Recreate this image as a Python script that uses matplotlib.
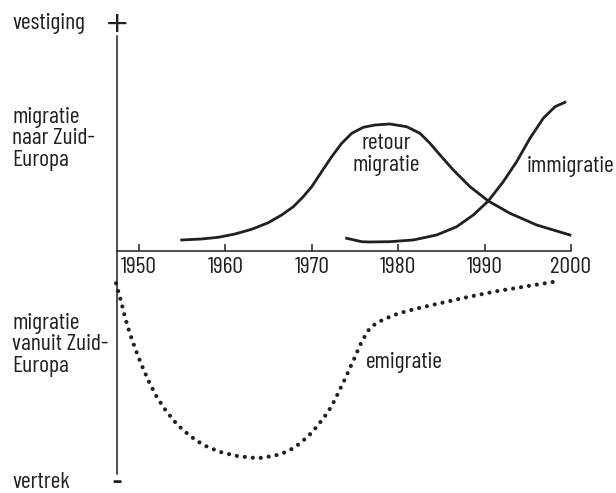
import matplotlib.pyplot as plt

# condensed sans, close to the original lettering
plt.rcParams['font.family'] = ['Barlow Condensed', 'DejaVu Sans']

# retour migratie (solid bell curve)
retour_jaar = [1954.94, 1957.25, 1959.18, 1961.11, 1963.04, 1964.96, 1966.51, 1967.86,
               1969.01, 1969.99, 1971.14, 1972.30, 1973.46, 1974.62, 1975.96, 1977.31,
               1979.05, 1980.98, 1982.52, 1983.68, 1984.84, 1986.38, 1988.31, 1990.43,
               1992.94, 1996.03, 1999.88]
retour_waarde = [5.12, 5.58, 6.37, 7.91, 10.09, 13.16, 16.74, 20.6,
                 25.26, 29.91, 36.88, 43.86, 50.09, 54.74, 57.53, 58.6,
                 59.07, 57.81, 54.74, 50.09, 44.65, 37.67, 29.91, 23.26,
                 17.53, 12.09, 7.44]

# immigratie (solid s-curve)
immi_jaar = [1974.04, 1975.77, 1976.73, 1979.05, 1981.75, 1984.45, 1986.77, 1988.69,
             1990.43, 1992.16, 1993.71, 1995.25, 1996.79, 1998.15, 1999.30]
immi_waarde = [5.91, 4.33, 4.19, 4.33, 5.12, 7.44, 11.3, 16.74,
               23.26, 32.23, 41.53, 52.42, 61.72, 67.12, 69.16]

# emigratie (dotted curve)
emi_jaar = [1947.34, 1947.88, 1948.38, 1948.96, 1949.62, 1950.35, 1951.16, 1952.08,
            1953.16, 1954.43, 1955.90, 1957.52, 1959.29, 1961.14, 1963.0, 1964.0,
            1964.96, 1965.85, 1966.78, 1967.67, 1968.48, 1969.21, 1969.91, 1970.57,
            1971.18, 1971.76, 1972.30, 1972.76, 1973.18, 1973.61, 1974.04, 1974.45,
            1974.88, 1975.26, 1975.69, 1976.16, 1976.65, 1977.43, 1978.27, 1979.16,
            1980.09, 1981.91, 1983.76, 1985.65, 1987.53, 1989.38, 1991.32, 1993.17,
            1995.06, 1996.99, 1997.88]
emi_waarde = [-15.02, -22.79, -30.84, -38.6, -46.05, -53.49, -60.93, -68.05,
              -74.56, -80.79, -86.05, -90.37, -93.35, -95.21, -96.14, -96.28,
              -95.67, -95.02, -93.81, -92.09, -89.91, -87.44, -84.79, -81.72,
              -78.6, -75.49, -72.09, -68.51, -64.98, -61.4, -57.81, -54.09,
              -50.37, -46.84, -42.93, -39.53, -36.28, -33.63, -31.95, -30.37,
              -28.98, -26.98, -25.26, -23.58, -21.86, -20.33, -18.74, -17.53,
              -16.28, -15.02, -14.42]

jaren = [1950, 1960, 1970, 1980, 1990, 2000]

ink = '#231f20'
fs = 17

fig = plt.figure(figsize=(6.16, 4.93), dpi=100)
ax = fig.add_axes([0, 0, 1, 1])
ax.set_xlim(1933.91, 2005.21)
ax.set_ylim(-112.56, 116.74)

# the curves
ax.plot(retour_jaar, retour_waarde, color=ink, lw=2.0)
ax.plot(immi_jaar, immi_waarde, color=ink, lw=2.0)
ax.plot(emi_jaar, emi_waarde, color=ink, lw=3.0,
        linestyle=(0, (0.001, 1.92)), dash_capstyle='round')

# axes through the origin
for side in ['top', 'right']:
    ax.spines[side].set_visible(False)
ax.spines['left'].set_position(('data', 1947.4))
ax.spines['left'].set_bounds(-103.7, 100)
ax.spines['bottom'].set_position(('data', 0))
ax.spines['bottom'].set_bounds(1947.4, 2000)
for side in ['left', 'bottom']:
    ax.spines[side].set_linewidth(1.1)
    ax.spines[side].set_color(ink)
ax.set_yticks([])
ax.set_xticks(jaren)
ax.tick_params(axis='x', direction='in', length=5, width=1.1, pad=4,
               labelsize=fs, colors=ink)

# sign markers on the vertical axis
ax.text(1947.45, 105.5, '+', ha='center', va='center', fontsize=21,
        family=['DejaVu Sans'], color=ink)
ax.text(1947.45, -107.6, '\u2013', ha='center', va='center', fontsize=17,
        fontweight='bold', color=ink)

# left labels
lbl = dict(ha='left', va='center', fontsize=fs, color=ink, linespacing=1.05)
ax.text(1935.3, 106.0, 'vestiging', **lbl)
ax.text(1935.3, 52.1, 'migratie\nnaar Zuid-\nEuropa', **lbl)
ax.text(1935.3, -43.7, 'migratie\nvanuit Zuid-\nEuropa', **lbl)
ax.text(1935.3, -107.6, 'vertrek', **lbl)

# curve labels
ax.text(1978.6, 44.7, 'retour\nmigratie', ha='center', va='center', fontsize=fs,
        color=ink, linespacing=1.05)
ax.text(1994.9, 39.3, 'immigratie', ha='left', va='center', fontsize=fs, color=ink)
ax.text(1976.27, -51.9, 'emigratie', ha='left', va='center', fontsize=fs, color=ink)

fig.savefig('out.png', dpi=100, facecolor='white')
